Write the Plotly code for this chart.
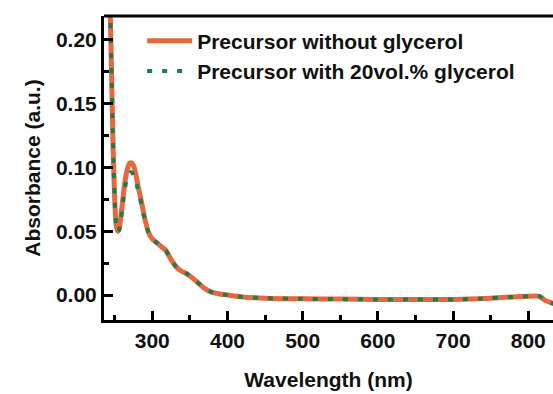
import plotly.graph_objects as go

# Wavelength (nm)
wavelength = [244, 246, 248, 250, 252, 254, 256, 258, 261, 264, 267, 270, 273, 276, 279,
              282, 286, 290, 295, 300, 306, 312, 318, 322, 326, 332, 338, 345, 352, 360,
              370, 380, 390, 400, 420, 450, 500, 550, 600, 650, 700, 750, 780, 800, 808,
              815, 822, 830, 835]

# Precursor without glycerol
abs_without = [0.225, 0.170, 0.114, 0.075, 0.055, 0.050, 0.052, 0.060, 0.076, 0.090,
               0.099, 0.1035, 0.1035, 0.100, 0.092, 0.083, 0.072, 0.060, 0.049, 0.044,
               0.041, 0.038, 0.035, 0.031, 0.027, 0.022, 0.019, 0.017, 0.014, 0.010,
               0.005, 0.002, 0.0008, 0.0, -0.0015, -0.0025, -0.003, -0.0032, -0.0035,
               -0.0035, -0.0035, -0.0025, -0.0015, -0.001, -0.0008, -0.001, -0.004,
               -0.006, -0.007]

# Precursor with 20vol.% glycerol
abs_with = [0.225, 0.170, 0.114, 0.075, 0.055, 0.0495, 0.051, 0.058, 0.072, 0.085,
            0.093, 0.096, 0.096, 0.093, 0.087, 0.080, 0.070, 0.059, 0.049, 0.044,
            0.041, 0.038, 0.035, 0.031, 0.027, 0.022, 0.019, 0.017, 0.014, 0.010,
            0.005, 0.002, 0.0008, 0.0, -0.0015, -0.0025, -0.003, -0.0032, -0.0035,
            -0.0035, -0.0035, -0.0025, -0.0015, -0.001, -0.0008, -0.001, -0.004,
            -0.006, -0.007]

x_ticks = [300, 400, 500, 600, 700, 800]
y_ticks = [0.00, 0.05, 0.10, 0.15, 0.20]
y_tick_labels = ["0.00", "0.05", "0.10", "0.15", "0.20"]

FONT = "Liberation Sans, Arial, sans-serif"

fig = go.Figure()
fig.add_trace(go.Scatter(
    x=wavelength, y=abs_without, mode="lines", name="Precursor without glycerol",
    line=dict(color="#E5683F", width=5, shape="spline", smoothing=0.6),
))
fig.add_trace(go.Scatter(
    x=wavelength, y=abs_with, mode="lines", name="Precursor with 20vol.% glycerol",
    line=dict(color="#1F7A4E", width=4, dash="5px,10px", shape="spline", smoothing=0.6),
))

axis_font = dict(family=FONT, size=21, color="#111111", weight="bold")
title_font = dict(family=FONT, size=21, color="#111111", weight="bold")

fig.update_layout(
    width=553, height=394,
    margin=dict(l=104, r=0, t=16, b=74),
    paper_bgcolor="white", plot_bgcolor="white",
    showlegend=True,
    legend=dict(
        x=0.085, y=0.985, xanchor="left", yanchor="top",
        bgcolor="rgba(0,0,0,0)", borderwidth=0,
        font=dict(family=FONT, size=21, color="#111111", weight="bold"),
        tracegroupgap=0, itemwidth=45,
    ),
    xaxis=dict(
        range=[235.8, 832.9], tickvals=x_ticks, ticks="inside", ticklen=9, tickwidth=3,
        tickcolor="black", showline=True, linecolor="black", linewidth=3,
        showgrid=False, zeroline=False, tickfont=axis_font,
        minor=dict(dtick=50, tick0=250, ticks="inside", ticklen=5, tickwidth=3, tickcolor="black"),
        title=dict(text="Wavelength (nm)", font=title_font, standoff=22),
    ),
    yaxis=dict(
        range=[-0.0196, 0.2188], tickvals=y_ticks, ticktext=y_tick_labels, ticks="inside",
        ticklen=9, tickwidth=3, tickcolor="black", showline=True, linecolor="black",
        linewidth=3, showgrid=False, zeroline=False, tickfont=axis_font,
        minor=dict(dtick=0.025, tick0=0, ticks="inside", ticklen=5, tickwidth=3, tickcolor="black"),
        title=dict(text="Absorbance (a.u.)", font=title_font, standoff=10),
    ),
    shapes=[dict(type="line", xref="paper", yref="paper", x0=0, x1=1, y0=1, y1=1,
                 line=dict(color="black", width=3))],
)

fig.write_html("out.html")
